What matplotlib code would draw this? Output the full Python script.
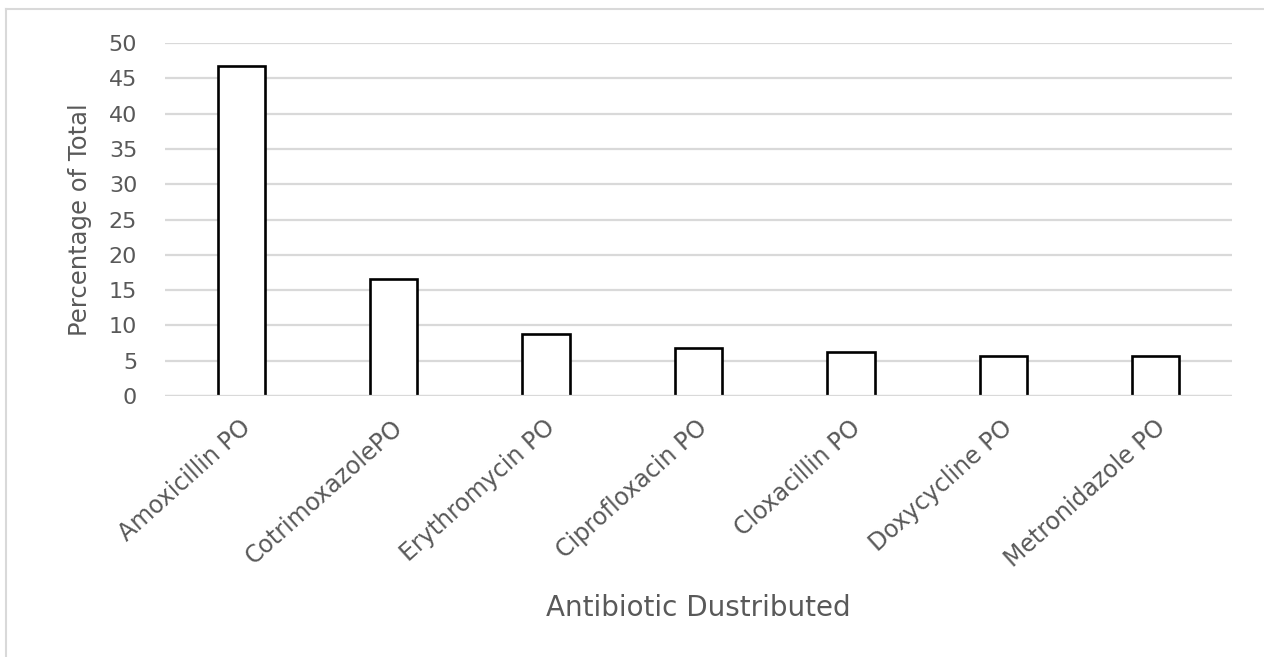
import matplotlib
matplotlib.use("Agg")
import matplotlib.pyplot as plt
from matplotlib.lines import Line2D
import matplotlib.transforms as mtransforms

categories = ["Amoxicillin PO", "CotrimoxazolePO", "Erythromycin PO", "Ciprofloxacin PO",
              "Cloxacillin PO", "Doxycycline PO", "Metronidazole PO"]
values = [46.8, 16.6, 8.8, 6.8, 6.2, 5.6, 5.6]
yticks = [0, 5, 10, 15, 20, 25, 30, 35, 40, 45, 50]

plt.rcParams['font.family'] = ['DejaVu Sans']
text_color = '#595959'
grid_color = '#d9d9d9'

fig = plt.figure(figsize=(12.64, 6.57), dpi=100)
ax = fig.add_axes([165/1264, 1-396/657, (1232-165)/1264, (396-43)/657])

x = list(range(len(categories)))
ax.bar(x, values, width=0.31, facecolor='white', edgecolor='black', linewidth=1.9, zorder=2)
ax.set_xlim(-0.5, len(categories)-0.5)
ax.set_ylim(0, 50)
ax.set_yticks(yticks)
ax.yaxis.grid(True, color=grid_color, linewidth=1.6, zorder=0)
ax.set_axisbelow(True)
ax.axhline(0, color=grid_color, linewidth=1.6, zorder=3)
for s in ax.spines.values():
    s.set_visible(False)
ax.tick_params(axis='y', length=0, labelsize=16, colors=text_color, pad=20)
ax.set_xticks(x)
ax.set_xticklabels(categories, rotation=42, ha='right', rotation_mode='anchor')
ax.tick_params(axis='x', length=0, labelsize=17, colors=text_color, pad=14)
offset = mtransforms.ScaledTranslation(-2/100, 0, fig.dpi_scale_trans)
for lab in ax.get_xticklabels():
    lab.set_transform(lab.get_transform() + offset)
ax.set_ylabel("Percentage of Total", fontsize=17.5, color=text_color, labelpad=12)
ax.set_xlabel("Antibiotic Dustributed", fontsize=20, color=text_color, labelpad=16)

# chart border (top and left visible)
fig.add_artist(Line2D([6/1264, 1.0], [1-9/657, 1-9/657], transform=fig.transFigure, color='#d9d9d9', linewidth=1.5))
fig.add_artist(Line2D([6/1264, 6/1264], [0, 1-9/657], transform=fig.transFigure, color='#d9d9d9', linewidth=1.5))

fig.savefig("out.png", dpi=100, facecolor='white')
